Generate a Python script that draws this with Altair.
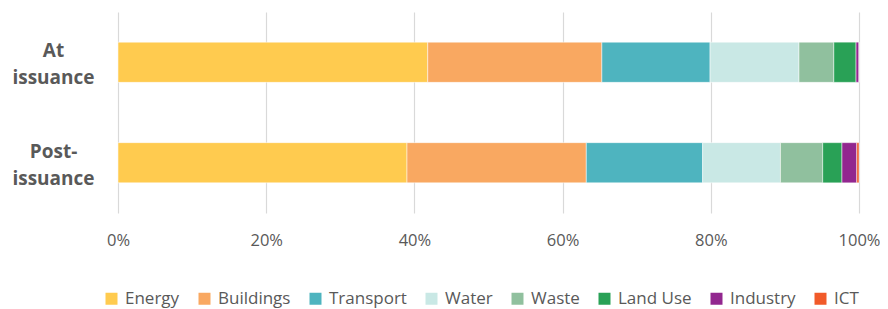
import altair as alt
import pandas as pd

stages = ["At issuance", "Post-issuance"]
sectors = ["Energy", "Buildings", "Transport", "Water", "Waste", "Land Use", "Industry", "ICT"]
at_issuance = [41.8, 23.5, 14.6, 12.0, 4.7, 3.0, 0.4, 0.0]
post_issuance = [39.0, 24.2, 15.7, 10.5, 5.7, 2.6, 2.0, 0.3]
colors = ["#FFCB4F", "#F9A861", "#4EB4BF", "#C9E8E5", "#90C09E", "#29A156", "#92278F", "#F15A29"]
x_ticks = [0, 20, 40, 60, 80, 100]

rows = []
for stage, vals in zip(stages, [at_issuance, post_issuance]):
    for i, (s, v) in enumerate(zip(sectors, vals)):
        rows.append({"stage": stage, "sector": s, "share": v, "order": i})
df = pd.DataFrame(rows)

FONT = "Open Sans"
GRAY = "#595959"

chart = alt.Chart(df).mark_bar(stroke="white", strokeWidth=0.5).encode(
    x=alt.X(
        "share:Q",
        stack="zero",
        scale=alt.Scale(domain=[0, 100], nice=False),
        axis=alt.Axis(
            values=x_ticks,
            labelExpr="datum.value + '%'",
            title=None,
            grid=True,
            gridColor="#d9d9d9",
            gridWidth=1.2,
            domain=False,
            ticks=False,
            labelFontSize=16.5,
            labelColor=GRAY,
            labelFont=FONT,
            labelPadding=19,
            labelFlush=False,
        ),
    ),
    y=alt.Y(
        "stage:N",
        sort=stages,
        scale=alt.Scale(paddingInner=0.6, paddingOuter=0.3),
        axis=alt.Axis(
            title=None,
            domain=False,
            ticks=False,
            grid=False,
            labelExpr="datum.value == 'At issuance' ? ['At', 'issuance'] : ['Post-', 'issuance']",
            labelAlign="center",
            labelBaseline="middle",
            labelPadding=65,
            labelOffset=-11,
            labelLineHeight=27,
            labelFontWeight="bold",
            labelFontSize=19,
            labelColor=GRAY,
            labelFont=FONT,
            labelLimit=300,
        ),
    ),
    color=alt.Color(
        "sector:N",
        sort=sectors,
        scale=alt.Scale(domain=sectors, range=colors),
        legend=alt.Legend(
            title=None,
            orient="none",
            direction="horizontal",
            legendX=-15,
            legendY=278,
            symbolType="square",
            symbolSize=144,
            symbolStrokeWidth=0,
            labelFontSize=17,
            labelColor=GRAY,
            labelFont=FONT,
            labelOffset=5,
            columnPadding=16,
            labelLimit=300,
        ),
    ),
    order=alt.Order("order:Q"),
).properties(
    width=741,
    height=201,
    autosize=alt.AutoSizeParams(type="none"),
    padding={"left": 110, "top": 4, "right": 21, "bottom": 96},
).configure_view(stroke=None)

chart.save("out.html", embed_options={"renderer": "svg", "actions": False})
